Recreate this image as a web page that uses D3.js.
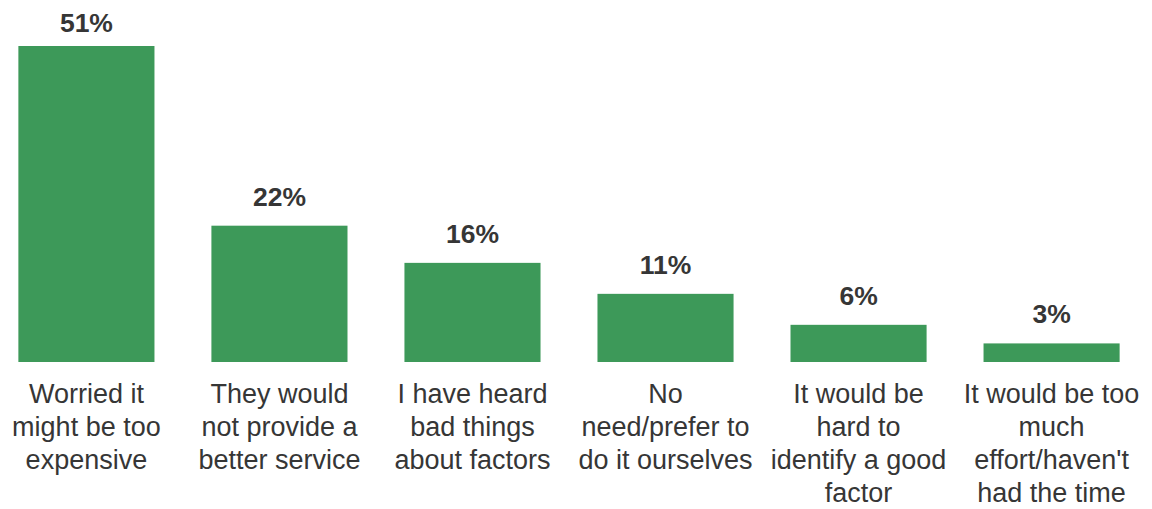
<!DOCTYPE html>
<html>
<head>
<meta charset="utf-8">
<script src="https://cdn.jsdelivr.net/npm/d3@7"></script>
<style>
  html, body { margin: 0; padding: 0; background: #ffffff; }
  svg { display: block; }
</style>
</head>
<body>
<svg id="chart" width="1152" height="509"></svg>
<script>
// Reasons given, one array of wrapped lines per bar
const categories = [
  ["Worried it", "might be too", "expensive"],
  ["They would", "not provide a", "better service"],
  ["I have heard", "bad things", "about factors"],
  ["No", "need/prefer to", "do it ourselves"],
  ["It would be", "hard to", "identify a good", "factor"],
  ["It would be too", "much", "effort/haven't", "had the time"]
];
// Share of respondents (%)
const values = [51, 22, 16, 11, 6, 3];
const valueLabels = ["51%", "22%", "16%", "11%", "6%", "3%"];

const W = 1152, H = 509;
const baseY = 362, topY = 46;
const barColor = "#3d9959";
const textColor = "#363636";
const fontFamily = "'Liberation Sans', Arial, Helvetica, sans-serif";

const svg = d3.select("#chart");

const idx = d3.range(values.length);
const x = d3.scaleBand()
  .domain(idx)
  .range([-10, 1148])
  .paddingInner(0.295)
  .paddingOuter(0.147);

const y = d3.scaleLinear()
  .domain([0, d3.max(values)])
  .range([baseY, topY]);

// Bars
svg.append("g")
  .selectAll("rect")
  .data(idx)
  .join("rect")
  .attr("x", i => x(i))
  .attr("y", i => y(values[i]))
  .attr("width", x.bandwidth())
  .attr("height", i => baseY - y(values[i]))
  .attr("fill", barColor);

// Value labels above each bar
svg.append("g")
  .selectAll("text")
  .data(idx)
  .join("text")
  .attr("x", i => x(i) + x.bandwidth() / 2)
  .attr("y", i => Math.max(y(values[i]) - 20, 32))
  .attr("text-anchor", "middle")
  .attr("font-family", fontFamily)
  .attr("font-size", "26.5px")
  .attr("font-weight", "bold")
  .attr("fill", textColor)
  .text(i => valueLabels[i]);

// Category labels below the baseline
const lineH = 33;
const catG = svg.append("g")
  .selectAll("text")
  .data(idx)
  .join("text")
  .attr("text-anchor", "middle")
  .attr("font-family", fontFamily)
  .attr("font-size", "27px")
  .attr("fill", textColor);

catG.selectAll("tspan")
  .data(i => categories[i].map((line, k) => ({ i, line, k })))
  .join("tspan")
  .attr("x", d => x(d.i) + x.bandwidth() / 2)
  .attr("y", d => 403 + d.k * lineH)
  .text(d => d.line);
</script>
</body>
</html>
